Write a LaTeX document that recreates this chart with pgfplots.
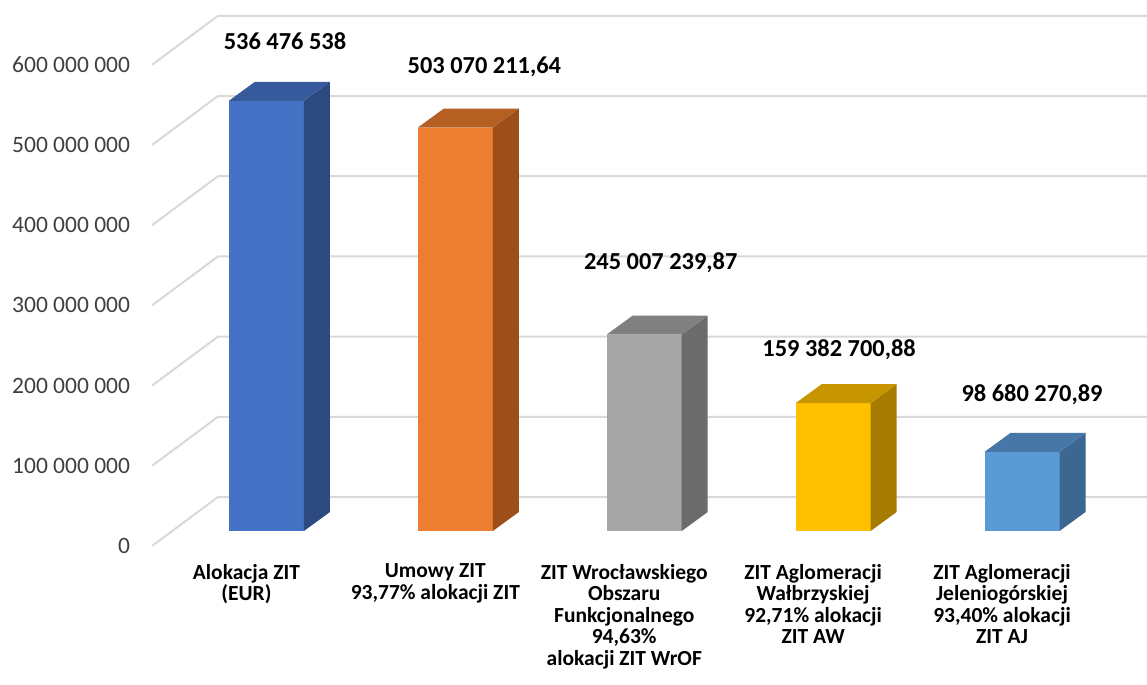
\documentclass[border=0pt]{standalone}
\usepackage{fontspec}
\setmainfont{Carlito}
\usepackage{pgfplots}
\usepackage{pgfplotstable}
\pgfplotsset{compat=1.18}

\definecolor{f0}{HTML}{4472C4}\definecolor{t0}{HTML}{365A9B}\definecolor{s0}{HTML}{2D4A80}
\definecolor{f1}{HTML}{ED7D31}\definecolor{t1}{HTML}{B65F22}\definecolor{s1}{HTML}{9C4F1B}
\definecolor{f2}{HTML}{A5A5A5}\definecolor{t2}{HTML}{808080}\definecolor{s2}{HTML}{6B6B6B}
\definecolor{f3}{HTML}{FFC000}\definecolor{t3}{HTML}{C79500}\definecolor{s3}{HTML}{A67C00}
\definecolor{f4}{HTML}{5B9BD5}\definecolor{t4}{HTML}{4677A6}\definecolor{s4}{HTML}{3B6790}
\definecolor{gridc}{HTML}{D9D9D9}
\definecolor{tickc}{HTML}{404040}

\tikzset{dlab/.style={font=\bfseries\fontsize{12.2}{14}\selectfont, inner sep=0pt, text=black}}

\pgfplotstableread{
x y
0 536476538
1 503070211.64
2 245007239.87
3 159382700.88
4 98680270.89
}\datatable

% shapes of the 3D side and top faces (cx: x offset, f: fraction of value, a: depth step)
\pgfplotstableread{
cx f a
0.1985 0 0
0.3361 0 1
0.3361 1 1
0.1985 1 0
}\sideshape
\pgfplotstableread{
cx f a
-0.1985 1 0
0.1985 1 0
0.3361 1 1
-0.0609 1 1
}\topshape
\pgfplotstableread{
u w
0 0
}\onerow

\begin{document}
\begin{tikzpicture}
\useasboundingbox (0,0) rectangle (573.5pt,-342.5pt);
\begin{axis}[
  at={(86pt,-265.5pt)}, anchor=south west,
  scale only axis, width=472.25pt, height=240.6pt,
  xmin=-0.5, xmax=4.5, ymin=0, ymax=600000000,
  clip=false,
  axis line style={draw=none},
  major tick length=0pt,
  tick style={draw=none},
  scaled y ticks=false,
  ytick={0,100000000,200000000,300000000,400000000,500000000,600000000},
  yticklabels={0,100 000 000,200 000 000,300 000 000,400 000 000,500 000 000,600 000 000},
  xtick={0,1,2,3,4},
  xticklabels={{Alokacja ZIT\\(EUR)},{Umowy ZIT\\93,77\% alokacji ZIT},{ZIT Wrocławskiego\\Obszaru\\Funkcjonalnego\\94,63\%\\alokacji ZIT WrOF},{ZIT Aglomeracji\\Wałbrzyskiej\\92,71\% alokacji\\ZIT AW},{ZIT Aglomeracji\\Jeleniogórskiej\\93,40\% alokacji\\ZIT AJ}},
  yticklabel style={anchor=east, inner sep=0pt, outer sep=0pt, xshift=-21pt, yshift=-7.5pt, font=\fontsize{11.75}{14}\selectfont, text=tickc},
  xticklabel style={anchor=north, inner sep=0pt, outer sep=0pt, xshift=-10pt, yshift=-16.5pt, align=center, font=\bfseries\fontsize{10.75}{10.75}\selectfont, text=black},
]
% back wall / floor grid lines
\pgfplotsinvokeforeach{0,100000000,200000000,300000000,400000000,500000000,600000000}{
  \draw[gridc, line width=1pt] ([shift={(-10pt,-7.5pt)}]axis cs:-0.5,#1) -- ([shift={(23pt,17pt)}]axis cs:-0.5,#1) -- ([shift={(23pt,17pt)}]axis cs:4.7,#1);
}
% bars
\pgfplotsinvokeforeach{0,1,2,3,4}{
  \pgfplotstablegetelem{#1}{y}\of\datatable
  \edef\V{\pgfplotsretval}
  \addplot[ybar, bar width=0.397, bar shift=0pt, fill=f#1, draw=none] table[x expr=#1, y expr=\V] {\onerow};
  \addplot[fill=s#1, draw=none] table[x expr=\thisrow{cx}+#1, y expr=\thisrow{f}*\V+\thisrow{a}*23690000] {\sideshape};
  \addplot[fill=t#1, draw=none] table[x expr=\thisrow{cx}+#1, y expr=\thisrow{f}*\V+\thisrow{a}*23690000] {\topshape};
}
% data labels
\node[dlab] at ([shift={(9.25pt,30pt)}]axis cs:0,536476538) {536 476 538};
\node[dlab] at ([shift={(14.5pt,30.25pt)}]axis cs:1,503070211.64) {503 070 211,64};
\node[dlab] at ([shift={(8.25pt,35.75pt)}]axis cs:2,245007239.87) {245 007 239,87};
\node[dlab] at ([shift={(3pt,26.5pt)}]axis cs:3,159382700.88) {159 382 700,88};
\node[dlab] at ([shift={(5pt,28.5pt)}]axis cs:4,98680270.89) {98 680 270,89};
\end{axis}
\end{tikzpicture}
\end{document}
